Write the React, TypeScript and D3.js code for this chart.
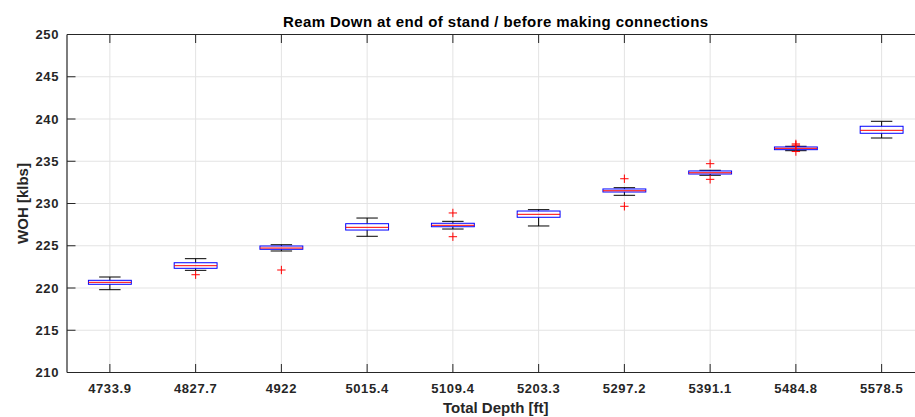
import React from "react";
import * as d3 from "d3";

// Total depth at each stand (category labels)
const depths = ["4733.9", "4827.7", "4922", "5015.4", "5109.4", "5203.3", "5297.2", "5391.1", "5484.8", "5578.5"];

// Box statistics per stand, WOH in klbs
const upperWhisker = [221.3, 223.47, 225.12, 228.28, 227.89, 229.27, 231.87, 233.93, 236.77, 239.73];
const q3 = [220.91, 222.99, 224.97, 227.61, 227.66, 229.11, 231.72, 233.85, 236.69, 239.14];
const medians = [220.67, 222.64, 224.73, 227.18, 227.42, 228.72, 231.51, 233.64, 236.53, 238.66];
const q1 = [220.44, 222.33, 224.58, 226.86, 227.25, 228.37, 231.36, 233.49, 236.37, 238.31];
const lowerWhisker = [219.8, 222.09, 224.38, 226.12, 226.98, 227.34, 230.97, 233.34, 236.25, 237.75];
const outliers = [
  [],
  [221.57],
  [222.13],
  [],
  [228.88, 226.07],
  [],
  [232.93, 229.67],
  [234.71, 232.86],
  [237.05, 236.9, 236.15],
  [],
];

const yTicks = [210, 215, 220, 225, 230, 235, 240, 245, 250];

const W = 915;
const H = 417;
const left = 67;
const right = 924.5;
const top = 34.5;
const bottom = 372.5;

const FONT = "'Liberation Sans', Arial, Helvetica, sans-serif";
const AXIS = "#262626";
const GRID = "#e3e3e3";

export default function App() {
  const x = d3.scaleLinear().domain([0.5, depths.length + 0.5]).range([left, right]);
  const y = d3.scaleLinear().domain([210, 250]).range([bottom, top]);
  const step = x(2) - x(1);
  const boxHalf = step * 0.25;
  const capHalf = step * 0.125;
  const plus = 4.2;

  return (
    <svg
      width={W}
      height={H}
      style={{ position: "absolute", left: 0, top: 0, display: "block", background: "#fff" }}
    >
      <rect x={0} y={0} width={W} height={H} fill="#fff" />
      {/* grid */}
      {yTicks.map((t) => (
        <line key={"gy" + t} x1={left} x2={right} y1={y(t)} y2={y(t)} stroke={GRID} strokeWidth={1} />
      ))}
      {depths.map((d, i) => (
        <line key={"gx" + d} x1={x(i + 1)} x2={x(i + 1)} y1={top} y2={bottom} stroke={GRID} strokeWidth={1} />
      ))}

      {/* boxes */}
      {depths.map((d, i) => {
        const cx = x(i + 1);
        return (
          <g key={"b" + d}>
            <line x1={cx} x2={cx} y1={y(upperWhisker[i])} y2={y(q3[i])} stroke="#000" strokeWidth={1} />
            <line x1={cx} x2={cx} y1={y(q1[i])} y2={y(lowerWhisker[i])} stroke="#000" strokeWidth={1} />
            <line x1={cx - capHalf} x2={cx + capHalf} y1={y(upperWhisker[i])} y2={y(upperWhisker[i])} stroke="#000" strokeWidth={1} />
            <line x1={cx - capHalf} x2={cx + capHalf} y1={y(lowerWhisker[i])} y2={y(lowerWhisker[i])} stroke="#000" strokeWidth={1} />
            <rect
              x={cx - boxHalf}
              y={y(q3[i])}
              width={boxHalf * 2}
              height={y(q1[i]) - y(q3[i])}
              fill="none"
              stroke="#0000ff"
              strokeWidth={1}
            />
            <line x1={cx - boxHalf} x2={cx + boxHalf} y1={y(medians[i])} y2={y(medians[i])} stroke="#ff0000" strokeWidth={1} />
            {outliers[i].map((v, k) => (
              <g key={k} stroke="#ff0000" strokeWidth={1}>
                <line x1={cx - plus} x2={cx + plus} y1={y(v)} y2={y(v)} />
                <line x1={cx} x2={cx} y1={y(v) - plus} y2={y(v) + plus} />
              </g>
            ))}
          </g>
        );
      })}

      {/* axes frame and inward ticks */}
      <line x1={left} x2={right} y1={bottom} y2={bottom} stroke={AXIS} strokeWidth={1.2} />
      <line x1={left} x2={right} y1={top} y2={top} stroke={AXIS} strokeWidth={1.2} />
      <line x1={left} x2={left} y1={top} y2={bottom} stroke={AXIS} strokeWidth={1.2} />
      {depths.map((d, i) => (
        <g key={"t" + d}>
          <line x1={x(i + 1)} x2={x(i + 1)} y1={bottom} y2={bottom - 8.5} stroke={AXIS} strokeWidth={1} />
          <line x1={x(i + 1)} x2={x(i + 1)} y1={top} y2={top + 8.5} stroke={AXIS} strokeWidth={1} />
          <text
            x={x(i + 1)}
            y={393}
            textAnchor="middle"
            fontFamily={FONT}
            fontWeight="bold"
            fontSize={13}
            letterSpacing={0.6}
            fill={AXIS}
          >
            {d}
          </text>
        </g>
      ))}
      {yTicks.map((t) => (
        <g key={"yt" + t}>
          <line x1={left} x2={left + 8.5} y1={y(t)} y2={y(t)} stroke={AXIS} strokeWidth={1} />
          <text
            x={59}
            y={y(t) + 4.5}
            textAnchor="end"
            fontFamily={FONT}
            fontWeight="bold"
            fontSize={13}
            letterSpacing={0.6}
            fill={AXIS}
          >
            {t}
          </text>
        </g>
      ))}

      {/* labels */}
      <text
        x={(left + right) / 2}
        y={27}
        textAnchor="middle"
        fontFamily={FONT}
        fontWeight="bold"
        fontSize={15}
        letterSpacing={0.4}
        fill="#000"
      >
        Ream Down at end of stand / before making connections
      </text>
      <text
        x={(left + right) / 2}
        y={413}
        textAnchor="middle"
        fontFamily={FONT}
        fontWeight="bold"
        fontSize={15}
        fill={AXIS}
      >
        Total Depth [ft]
      </text>
      <text
        transform={`translate(28, ${(top + bottom) / 2}) rotate(-90)`}
        textAnchor="middle"
        fontFamily={FONT}
        fontWeight="bold"
        fontSize={15}
        fill={AXIS}
      >
        WOH [klbs]
      </text>
    </svg>
  );
}
